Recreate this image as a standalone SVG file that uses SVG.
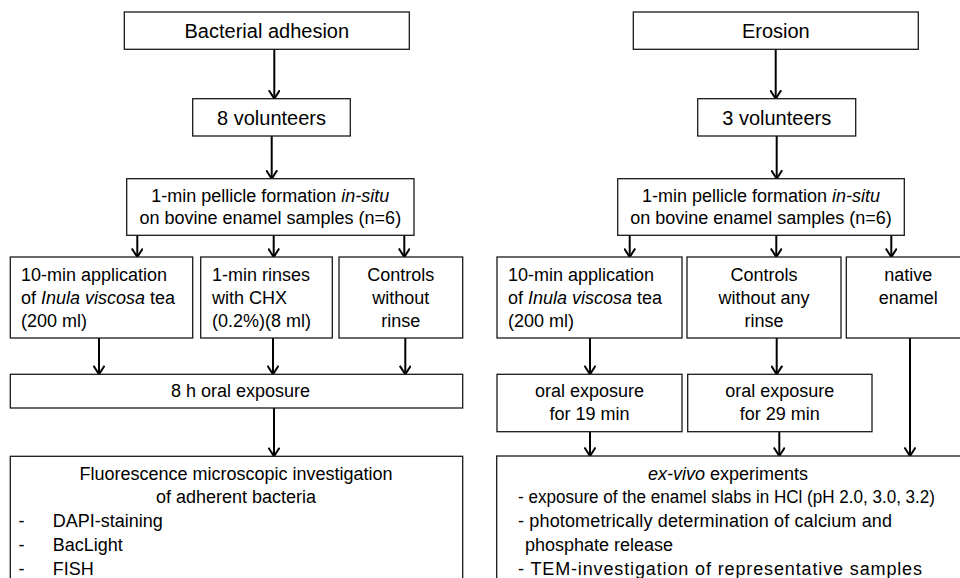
<svg xmlns="http://www.w3.org/2000/svg" width="960" height="578" viewBox="0 0 960 578">
<defs>
<marker id="ah" viewBox="0 0 10 12" refX="9" refY="6" markerWidth="10" markerHeight="12" markerUnits="userSpaceOnUse" orient="auto">
<path d="M0.5,0.5 L9,6 L0.5,11.5" fill="none" stroke="#000" stroke-width="2"/>
</marker>
</defs>
<style>
rect{fill:#fff;stroke:#1a1a1a;stroke-width:1.3}
text{font-family:"Liberation Sans",Arial,sans-serif;font-size:18px;fill:#000}
.t{font-size:20px}
.c{text-anchor:middle}
.conn line{stroke:#000;stroke-width:2;marker-end:url(#ah)}
</style>
<rect x="0" y="0" width="960" height="578" style="stroke:none;fill:#fff"/>

<g id="conn" class="conn">
<line x1="274.3" y1="49.3" x2="274.3" y2="98.7"/>
<line x1="271.7" y1="136" x2="271.7" y2="178.7"/>
<line x1="137.3" y1="235.3" x2="137.3" y2="257"/>
<line x1="273.7" y1="235.3" x2="273.7" y2="257"/>
<line x1="404.3" y1="235.3" x2="404.3" y2="257"/>
<line x1="99" y1="338" x2="99" y2="374.3"/>
<line x1="273" y1="338" x2="273" y2="374.3"/>
<line x1="405.3" y1="338" x2="405.3" y2="374.3"/>
<line x1="274" y1="408" x2="274" y2="456.3"/>
<line x1="775.7" y1="49.3" x2="775.7" y2="98.7"/>
<line x1="776.7" y1="136" x2="776.7" y2="178.7"/>
<line x1="629.7" y1="235.3" x2="629.7" y2="257"/>
<line x1="776.3" y1="235.3" x2="776.3" y2="257"/>
<line x1="891.3" y1="235.3" x2="891.3" y2="257"/>
<line x1="590" y1="338" x2="590" y2="374.3"/>
<line x1="776.7" y1="338" x2="776.7" y2="374.3"/>
<line x1="910" y1="338" x2="910" y2="456"/>
<line x1="590" y1="431.7" x2="590" y2="456"/>
<line x1="779.3" y1="431.7" x2="779.3" y2="456"/>
</g>

<g id="bact">
<rect x="124.3" y="12" width="285" height="37.3"/>
<text class="t c" x="266.8" y="38">Bacterial adhesion</text>
</g>
<g id="vol8">
<rect x="192.7" y="98.7" width="157.6" height="37.3"/>
<text class="t c" x="271.5" y="125">8 volunteers</text>
</g>
<g id="pell-l">
<rect x="126.7" y="178.7" width="287.3" height="56.6"/>
<text class="c" x="270.3" y="202.3">1-min pellicle formation <tspan font-style="italic">in-situ</tspan></text>
<text class="c" x="270.3" y="224.3">on bovine enamel samples (n=6)</text>
</g>
<g id="tea-l">
<rect x="10.3" y="257" width="182.4" height="81"/>
<text x="21" y="281">10-min application</text>
<text x="21" y="304">of <tspan font-style="italic">Inula viscosa</tspan> tea</text>
<text x="21" y="327">(200 ml)</text>
</g>
<g id="chx">
<rect x="200.7" y="257" width="131.6" height="81"/>
<text x="212" y="281">1-min rinses</text>
<text x="212" y="304">with CHX</text>
<text x="212" y="327">(0.2%)(8 ml)</text>
</g>
<g id="ctrl-l">
<rect x="339" y="257" width="123.7" height="81"/>
<text class="c" x="400.8" y="281">Controls</text>
<text class="c" x="400.8" y="304">without</text>
<text class="c" x="400.8" y="327">rinse</text>
</g>
<g id="oral8">
<rect x="10.3" y="374.3" width="452.4" height="33.7"/>
<text class="c" x="240.5" y="397">8 h oral exposure</text>
</g>
<g id="fluor">
<rect x="10.3" y="456.3" width="452.4" height="140"/>
<text class="c" x="236" y="480">Fluorescence microscopic investigation</text>
<text class="c" x="236" y="503">of adherent bacteria</text>
<text x="18.5" y="527">-</text>
<text x="52.7" y="527">DAPI-staining</text>
<text x="18.5" y="551">-</text>
<text x="52.7" y="551">BacLight</text>
<text x="18.5" y="575">-</text>
<text x="52.7" y="575">FISH</text>
</g>

<g id="erosion">
<rect x="633.3" y="12" width="285" height="37.3"/>
<text class="t c" x="775.8" y="38">Erosion</text>
</g>
<g id="vol3">
<rect x="697.7" y="98.7" width="158" height="37.3"/>
<text class="t c" x="776.7" y="125">3 volunteers</text>
</g>
<g id="pell-r">
<rect x="617.7" y="178.7" width="286.6" height="56.6"/>
<text class="c" x="761" y="202.3">1-min pellicle formation <tspan font-style="italic">in-situ</tspan></text>
<text class="c" x="761" y="224.3">on bovine enamel samples (n=6)</text>
</g>
<g id="tea-r">
<rect x="497" y="257" width="185" height="81"/>
<text x="508" y="281">10-min application</text>
<text x="508" y="304">of <tspan font-style="italic">Inula viscosa</tspan> tea</text>
<text x="508" y="327">(200 ml)</text>
</g>
<g id="ctrl-r">
<rect x="687" y="257" width="154" height="81"/>
<text class="c" x="764" y="281">Controls</text>
<text class="c" x="764" y="304">without any</text>
<text class="c" x="764" y="327">rinse</text>
</g>
<g id="native">
<rect x="846.3" y="257" width="120" height="81"/>
<text class="c" x="908.3" y="281">native</text>
<text class="c" x="908.3" y="304">enamel</text>
</g>
<g id="oral19">
<rect x="497" y="374.3" width="185" height="57.4"/>
<text class="c" x="589.5" y="397">oral exposure</text>
<text class="c" x="589.5" y="420">for 19 min</text>
</g>
<g id="oral29">
<rect x="687.7" y="374.3" width="184.3" height="57.4"/>
<text class="c" x="779.8" y="397">oral exposure</text>
<text class="c" x="779.8" y="420">for 29 min</text>
</g>
<g id="exvivo">
<rect x="496.7" y="456" width="480" height="140"/>
<text class="c" x="728" y="480"><tspan font-style="italic">ex-vivo</tspan> experiments</text>
<text x="518" y="503" textLength="417" lengthAdjust="spacingAndGlyphs">- exposure of the enamel slabs in HCl (pH 2.0, 3.0, 3.2)</text>
<text x="518" y="527" textLength="374">- photometrically determination of calcium and</text>
<text x="525" y="551">phosphate release</text>
<text x="518" y="575" textLength="404">- TEM-investigation of representative samples</text>
</g>
</svg>
